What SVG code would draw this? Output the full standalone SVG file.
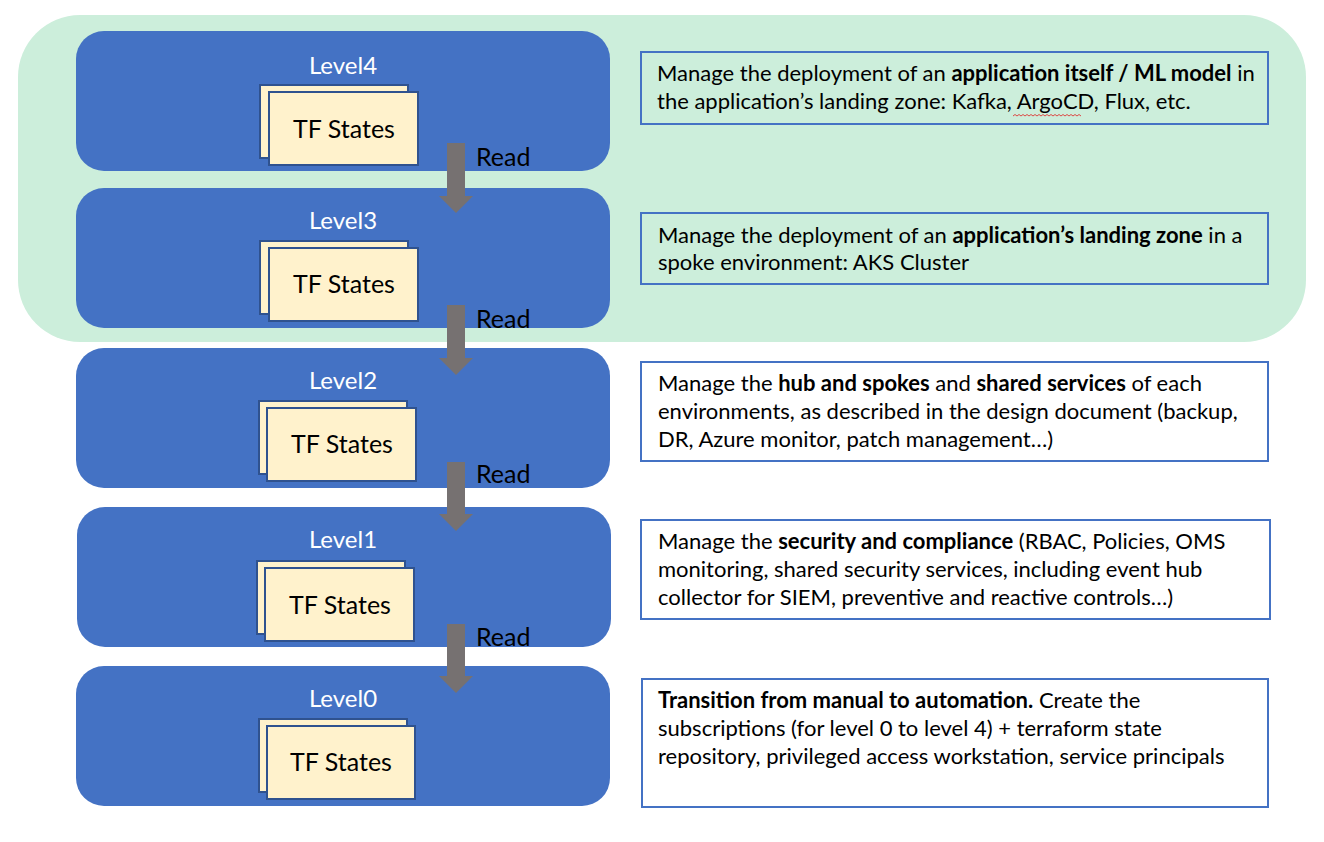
<svg xmlns="http://www.w3.org/2000/svg" width="1324" height="842" viewBox="0 0 1324 842">
<defs>
<style>
.lvl{fill:#4472C4}
.lt{font-family:Lato,"Open Sans",sans-serif;font-size:24px;fill:#fff;text-anchor:middle}
.st{fill:#FFF2CC;stroke:#2F528F;stroke-width:2}
.stt{font-family:Lato,"Open Sans",sans-serif;font-size:25px;fill:#000;text-anchor:middle}
.rd{font-family:Lato,"Open Sans",sans-serif;font-size:25px;fill:#000}
.box{fill:none;stroke:#4472C4;stroke-width:2}
.bt{font-family:Lato,"Open Sans",sans-serif;font-size:22px;fill:#000}
.b{font-weight:bold}
.arr{fill:#767171}
</style>
</defs>
<rect width="1324" height="842" fill="#fff"/>
<rect x="18" y="15" width="1288" height="327" rx="62" fill="#CCEEDB"/>

<g id="level4">
<rect class="lvl" x="76" y="31" width="534" height="140" rx="28"/>
<text class="lt" x="343" y="74">Level4</text>
<rect class="st" x="260" y="85" width="148" height="73"/>
<rect class="st" x="269" y="92" width="149" height="73"/>
<text class="stt" x="344" y="138">TF States</text>
</g>
<g id="level3">
<rect class="lvl" x="76" y="188" width="534" height="140" rx="28"/>
<text class="lt" x="343" y="229">Level3</text>
<rect class="st" x="260" y="241" width="148" height="73"/>
<rect class="st" x="269" y="248" width="149" height="73"/>
<text class="stt" x="344" y="293">TF States</text>
</g>
<g id="level2">
<rect class="lvl" x="76" y="348" width="534" height="140" rx="28"/>
<text class="lt" x="343" y="389">Level2</text>
<rect class="st" x="259" y="401" width="148" height="73"/>
<rect class="st" x="267" y="408" width="149" height="73"/>
<text class="stt" x="342" y="453">TF States</text>
</g>
<g id="level1">
<rect class="lvl" x="77" y="507" width="534" height="140" rx="28"/>
<text class="lt" x="343" y="548">Level1</text>
<rect class="st" x="257" y="561" width="148" height="73"/>
<rect class="st" x="265" y="568" width="149" height="73"/>
<text class="stt" x="340" y="614">TF States</text>
</g>
<g id="level0">
<rect class="lvl" x="76" y="666" width="534" height="140" rx="28"/>
<text class="lt" x="343" y="707">Level0</text>
<rect class="st" x="259" y="719" width="148" height="73"/>
<rect class="st" x="267" y="726" width="148" height="73"/>
<text class="stt" x="341" y="771">TF States</text>
</g>

<g id="connectors">
<path class="arr" d="M447,143 H465 V196 H473 L456,213 L439,196 H447 Z"/>
<text class="rd" x="476" y="166">Read</text>
<path class="arr" d="M447,305 H465 V358 H473 L456,375 L439,358 H447 Z"/>
<text class="rd" x="476" y="328">Read</text>
<path class="arr" d="M447,462 H465 V514 H473 L456,531 L439,514 H447 Z"/>
<text class="rd" x="476" y="483">Read</text>
<path class="arr" d="M447,624 H465 V676 H473 L456,693 L439,676 H447 Z"/>
<text class="rd" x="476" y="646">Read</text>
</g>

<g id="desc4">
<rect class="box" x="641" y="52" width="627" height="72"/>
<text class="bt" x="657" y="81">Manage the deployment of an <tspan class="b">application itself / ML model</tspan> in</text>
<text class="bt" x="657" y="109">the application’s landing zone: Kafka, ArgoCD, Flux, etc.</text>
<path d="M1013,116 l2,-1.5 l2,1.5 l2,-1.5 l2,1.5 l2,-1.5 l2,1.5 l2,-1.5 l2,1.5 l2,-1.5 l2,1.5 l2,-1.5 l2,1.5 l2,-1.5 l2,1.5 l2,-1.5 l2,1.5 l2,-1.5 l2,1.5 l2,-1.5 l2,1.5 l2,-1.5 l2,1.5 l2,-1.5 l2,1.5 l2,-1.5 l2,1.5 l2,-1.5 l2,1.5 l2,-1.5 l2,1.5 l2,-1.5 l2,1.5 l2,-1.5 l2,1.5" fill="none" stroke="#E02020" stroke-width="0.8"/>
</g>
<g id="desc3">
<rect class="box" x="641" y="213" width="627" height="71"/>
<text class="bt" x="658" y="243">Manage the deployment of an <tspan class="b">application’s landing zone</tspan> in a</text>
<text class="bt" x="658" y="270">spoke environment: AKS Cluster</text>
</g>
<g id="desc2">
<rect class="box" x="641" y="362" width="627" height="99"/>
<text class="bt" x="658" y="391">Manage the <tspan class="b">hub and spokes</tspan> and <tspan class="b">shared services</tspan> of each</text>
<text class="bt" x="658" y="419">environments, as described in the design document (backup,</text>
<text class="bt" x="658" y="447">DR, Azure monitor, patch management…)</text>
</g>
<g id="desc1">
<rect class="box" x="641" y="520" width="629" height="99"/>
<text class="bt" x="658" y="549">Manage the <tspan class="b">security and compliance</tspan> (RBAC, Policies, OMS</text>
<text class="bt" x="658" y="577">monitoring, shared security services, including event hub</text>
<text class="bt" x="658" y="605">collector for SIEM, preventive and reactive controls…)</text>
</g>
<g id="desc0">
<rect class="box" x="642" y="679" width="626" height="128"/>
<text class="bt" x="658" y="708"><tspan class="b">Transition from manual to automation.</tspan> Create the</text>
<text class="bt" x="658" y="736">subscriptions (for level 0 to level 4) + terraform state</text>
<text class="bt" x="658" y="764">repository, privileged access workstation, service principals</text>
</g>
</svg>
